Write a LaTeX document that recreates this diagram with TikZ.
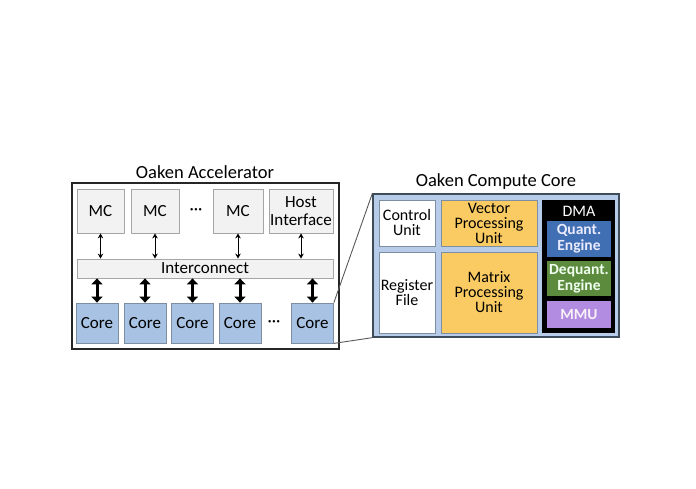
\documentclass[tikz,border=0pt]{standalone}
\usepackage{fontspec}
\setmainfont{Carlito}
\usetikzlibrary{arrows.meta}

\definecolor{boxgray}{HTML}{F2F2F2}
\definecolor{boxline}{HTML}{A6A6A6}
\definecolor{corefill}{HTML}{A7C2E3}
\definecolor{coreline}{HTML}{7D8EA3}
\definecolor{ccfill}{HTML}{B6CCE8}
\definecolor{ccline}{HTML}{3E4B5B}
\definecolor{unityellow}{HTML}{FACB62}
\definecolor{quantblue}{HTML}{416FB4}
\definecolor{dequantgreen}{HTML}{5D8B3D}
\definecolor{mmupurple}{HTML}{B28CE0}

\tikzset{
  graybox/.style={draw=boxline, fill=boxgray, line width=0.8pt, inner sep=0pt, align=center, font=\fontsize{17}{18}\selectfont},
  corebox/.style={draw=coreline, fill=corefill, line width=0.8pt, inner sep=0pt, minimum width=42pt, minimum height=40pt, font=\fontsize{17}{18}\selectfont},
  unitbox/.style={draw=coreline, line width=0.6pt, inner sep=0pt, align=center, font=\fontsize{16}{15}\selectfont},
  dmabox/.style={inner sep=0pt, align=center, minimum width=64pt, font=\bfseries\fontsize{15.5}{16}\selectfont},
  thinarrow/.style={{Stealth[length=5pt,width=5.5pt]}-{Stealth[length=5pt,width=5.5pt]}, line width=1pt},
  fatarrow/.style={{Triangle[length=6pt,width=11pt]}-{Triangle[length=6pt,width=11pt]}, line width=3pt},
  titletext/.style={font=\fontsize{18.5}{20}\selectfont},
  dotstext/.style={font=\fontsize{17}{18}\selectfont}
}

\begin{document}
\begin{tikzpicture}[x=1pt, y=-1pt]
      \useasboundingbox (0,0) rectangle (696,489);

      % accelerator
      \node[titletext] (acctitle) at (205,172) {Oaken Accelerator};
      \draw[line width=1.4pt, draw=black!85] (72,183) rectangle (339,349);

      \node[graybox, minimum width=47pt, minimum height=44pt] (mc1) at (100.5,211) {MC};
      \node[graybox, minimum width=48pt, minimum height=44pt] (mc2) at (155,211) {MC};
      \node[dotstext] (mcdots) at (196,212) {···};
      \node[graybox, minimum width=50pt, minimum height=44pt] (mc3) at (238,211) {MC};
      \node[graybox, minimum width=64pt, minimum height=44pt] (host) at (301,211) {Host\\Interface};

      \node[graybox, minimum width=256pt, minimum height=19pt] (ic) at (205,268.5) {Interconnect};

      \foreach \n/\x in {1/97,2/145,3/192.5,4/240,5/312.5} {
          \node[corebox] (core\n) at (\x,323) {Core};
          \draw[fatarrow] (ic.south -| core\n) -- (core\n.north);
        }
      \node[dotstext] (coredots) at (274,324) {···};

      \foreach \m in {mc1,mc2,mc3,host}
          \draw[thinarrow] (\m.south) -- (\m.south |- ic.north);

      % compute core
      \node[titletext] (cctitle) at (496,182) {Oaken Compute Core};
      \node[draw=ccline, fill=ccfill, line width=1.3pt, minimum width=246pt, minimum height=143pt, inner sep=0pt] (cc) at (496,265.5) {};

      \node[unitbox, fill=white, minimum width=56pt, minimum height=46pt] (cu) at (407,223) {Control\\Unit};
      \node[unitbox, fill=white, minimum width=56pt, minimum height=81pt] (rf) at (407,292.5) {Register\\File};
      \node[unitbox, fill=unityellow, minimum width=96pt, minimum height=46pt] (vpu) at (489,223) {Vector\\Processing\\Unit};
      \node[unitbox, fill=unityellow, minimum width=96pt, minimum height=81pt] (mpu) at (489,292.5) {Matrix\\Processing\\Unit};

      \node[fill=black, minimum width=73pt, minimum height=133pt, inner sep=0pt] (dma) at (578.5,266.5) {};
      \node[font=\fontsize{16}{16}\selectfont, text=white] (dmalabel) at (579,211.5) {DMA};
      \node[dmabox, fill=quantblue, text=blue!8, minimum height=36pt] (qe) at (579,239) {Quant.\\Engine};
      \node[dmabox, fill=dequantgreen, text=green!6, minimum height=35pt] (de) at (579,278.5) {Dequant.\\Engine};
      \node[dmabox, fill=mmupurple, text=violet!6, minimum height=27pt] (mmu) at (579,314.5) {MMU};

      % zoom lines
      \draw[line width=0.9pt, draw=black!65] (core5.north east) -- (cc.north west);
      \draw[line width=0.9pt, draw=black!65] (core5.south east) -- (cc.south west);
    \end{tikzpicture}
\end{document}
